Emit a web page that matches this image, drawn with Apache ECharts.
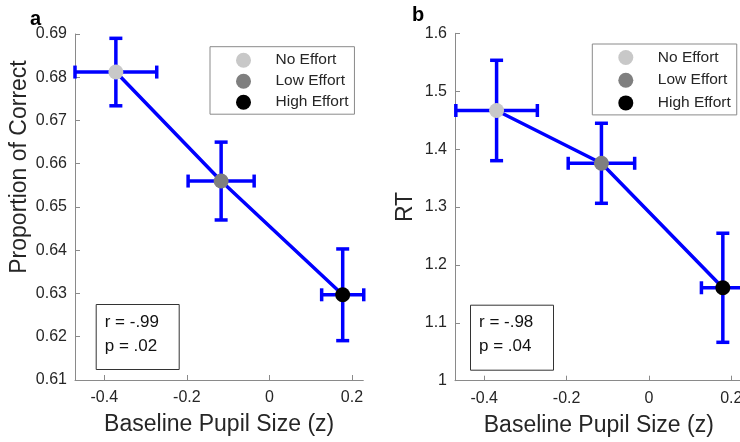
<!DOCTYPE html>
<html>
<head>
<meta charset="utf-8">
<script src="https://cdn.jsdelivr.net/npm/echarts@6/dist/echarts.min.js"></script>
<style>html,body{margin:0;padding:0;background:#fff}#c{width:740px;height:442px}</style>
</head>
<body>
<div id="c"></div>
<script>
// ---- data ----
const conditions = ['No Effort', 'Low Effort', 'High Effort'];
const xTicks = [-0.4, -0.2, 0, 0.2];
// panel a
const pupilA = [-0.372, -0.117, 0.1775];
const pupilErrA = [0.099, 0.080, 0.051];
const accuracy = [0.6812, 0.6560, 0.6297];
const accuracyErr = [0.0078, 0.0090, 0.0106];
// panel b
const pupilB = [-0.370, -0.1154, 0.1794];
const pupilErrB = [0.099, 0.0807, 0.052];
const rt = [1.4667, 1.3755, 1.1605];
const rtErr = [0.0867, 0.0691, 0.0942];
const statsA = ['r = -.99', 'p = .02'];
const statsB = ['r = -.98', 'p = .04'];

// ---- styles ----
const condColors = ['#c8c8c8', '#7f7f7f', '#000000'];
const FONT = '"Liberation Sans", Arial, sans-serif';
const BLUE = '#0000ff';
const AXIS = '#8a8a8a';
const TXT = '#262626';

function renderErr(params, api) {
  const x = api.value(0), y = api.value(1), ex = api.value(2), ey = api.value(3);
  const l = api.coord([x - ex, y]), r = api.coord([x + ex, y]);
  const t = api.coord([x, y + ey]), b = api.coord([x, y - ey]);
  const h = 6.5;
  const st = {stroke: BLUE, lineWidth: 3.5};
  const seg = (x1, y1, x2, y2) => ({type: 'line', shape: {x1, y1, x2, y2}, style: st});
  return {type: 'group', children: [
    seg(t[0], t[1], b[0], b[1]),
    seg(l[0], l[1], r[0], r[1]),
    seg(t[0] - h, t[1], t[0] + h, t[1]),
    seg(b[0] - h, b[1], b[0] + h, b[1]),
    seg(l[0], l[1] - h, l[0], l[1] + h),
    seg(r[0], r[1] - h, r[0], r[1] + h)
  ]};
}

function xAxisCfg(gridIndex) {
  return {
    type: 'value', gridIndex, min: -0.471, max: 0.2274,
    name: 'Baseline Pupil Size (z)', nameLocation: 'middle', nameGap: 33,
    nameTextStyle: {fontSize: 23, color: TXT, fontFamily: FONT},
    axisLine: {show: true, onZero: false, lineStyle: {color: AXIS, width: 1}},
    axisTick: {show: true, inside: true, length: 5, customValues: xTicks, lineStyle: {color: AXIS}},
    axisLabel: {customValues: xTicks, fontSize: 16, color: TXT, fontFamily: FONT, margin: 10,
      formatter: v => String(v)},
    splitLine: {show: false}
  };
}
function yAxisCfg(gridIndex, min, max, interval, name, gap, fmt, pad) {
  return {
    type: 'value', gridIndex, min, max, interval,
    name, nameLocation: 'middle', nameGap: gap,
    nameTextStyle: {fontSize: 23, color: TXT, fontFamily: FONT, padding: pad},
    axisLine: {show: true, onZero: false, lineStyle: {color: AXIS, width: 1}},
    axisTick: {show: true, inside: true, length: 5, lineStyle: {color: AXIS}},
    axisLabel: {fontSize: 16, color: TXT, fontFamily: FONT, margin: 8, formatter: fmt},
    splitLine: {show: false}
  };
}

function panelSeries(idx, xs, xe, ys, ye) {
  const out = [];
  out.push({type: 'line', xAxisIndex: idx, yAxisIndex: idx, data: xs.map((x, i) => [x, ys[i]]),
    showSymbol: false, symbol: 'none', lineStyle: {color: BLUE, width: 3.5}, z: 2, silent: true});
  out.push({type: 'custom', xAxisIndex: idx, yAxisIndex: idx, renderItem: renderErr, clip: false,
    data: xs.map((x, i) => [x, ys[i], xe[i], ye[i]]), encode: {x: 0, y: 1}, z: 3, silent: true});
  conditions.forEach((c, i) => {
    out.push({type: 'scatter', name: c, xAxisIndex: idx, yAxisIndex: idx, data: [[xs[i], ys[i]]],
      symbol: 'circle', symbolSize: 15, itemStyle: {color: condColors[i], opacity: 1}, z: 5, silent: true});
  });
  return out;
}

function legendCfg(left, top, gap) {
  return {
    data: conditions, orient: 'vertical', left, top,
    itemWidth: 54, itemHeight: 15, itemGap: gap, icon: 'circle',
    padding: [5.5, 6, 4, 26], borderColor: AXIS, borderWidth: 1, selectedMode: false,
    textStyle: {fontSize: 15.5, color: TXT, fontFamily: FONT}
  };
}
function statsCfg(lines, left, top) {
  return {
    text: lines.join('\n'), left, top,
    padding: [6, 20, 12, 9], borderColor: '#333', borderWidth: 1,
    textStyle: {fontSize: 17, fontWeight: 'normal', color: '#111', fontFamily: FONT, lineHeight: 24}
  };
}

const chart = echarts.init(document.getElementById('c'), null, {renderer: 'canvas'});
chart.setOption({
  animation: false,
  backgroundColor: '#fff',
  title: [
    {text: 'a', left: 30, top: 9, padding: 0, textStyle: {fontSize: 20, fontWeight: 'bold', color: '#000', fontFamily: FONT}},
    {text: 'b', left: 412, top: 5, padding: 0, textStyle: {fontSize: 20, fontWeight: 'bold', color: '#000', fontFamily: FONT}},
    statsCfg(statsA, 95.7, 304),
    statsCfg(statsB, 470, 304.7)
  ],
  legend: [legendCfg(210, 46.7, 5), legendCfg(592.3, 44, 6.7)],
  grid: [
    {left: 75, top: 34, width: 288.3, height: 346, outerBoundsMode: 'none', containLabel: false},
    {left: 455, top: 33.3, width: 287.6, height: 347.4, outerBoundsMode: 'none', containLabel: false}
  ],
  xAxis: [xAxisCfg(0), xAxisCfg(1)],
  yAxis: [
    yAxisCfg(0, 0.61, 0.69, 0.01, 'Proportion of Correct', 44, v => v.toFixed(2), [0, 0, 0, 80]),
    yAxisCfg(1, 1, 1.6, 0.1, 'RT', 38, v => String(Math.round(v * 10) / 10), 0)
  ],
  series: [
    ...panelSeries(0, pupilA, pupilErrA, accuracy, accuracyErr),
    ...panelSeries(1, pupilB, pupilErrB, rt, rtErr)
  ]
});
</script>
</body>
</html>
